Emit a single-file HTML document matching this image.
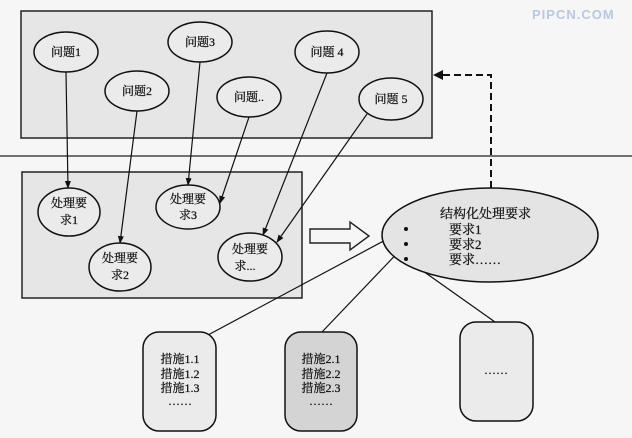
<!DOCTYPE html>
<html><head><meta charset="utf-8"><style>
html,body{margin:0;padding:0;background:#f6f6f6;}
svg{display:block;}
text{font-family:"Liberation Serif","Noto Serif CJK SC",serif;fill:#111;stroke:#111;stroke-width:0.25;}
</style></head><body>
<svg width="632" height="438" viewBox="0 0 632 438" xmlns="http://www.w3.org/2000/svg">
<defs>
<marker id="ah" markerWidth="8" markerHeight="8" refX="7" refY="4" orient="auto" markerUnits="userSpaceOnUse">
<path d="M0,1 L8,4 L0,7 Z" fill="#111"/></marker>
</defs>
<rect width="632" height="438" fill="#f6f6f6"/>
<text x="532" y="19" font-weight="bold" font-size="13" style="fill:#b8c8e0;stroke:none;font-family:'Liberation Sans',sans-serif" letter-spacing="1">PIPCN.COM</text>
<rect x="21" y="11" width="411" height="127" fill="#e6e6e6" stroke="#222" stroke-width="1.5"/>
<line x1="0" y1="156" x2="632" y2="156" stroke="#444" stroke-width="1.4"/>
<rect x="22" y="172" width="280" height="126" fill="#e6e6e6" stroke="#222" stroke-width="1.5"/>
<g stroke="#111" stroke-width="1.2" fill="none">
<line x1="66" y1="72" x2="68" y2="188" marker-end="url(#ah)"/>
<line x1="137" y1="111" x2="120" y2="243" marker-end="url(#ah)"/>
<line x1="200" y1="62" x2="188" y2="185" marker-end="url(#ah)"/>
<line x1="249" y1="117" x2="220" y2="203" marker-end="url(#ah)"/>
<line x1="327" y1="73" x2="263" y2="235" marker-end="url(#ah)"/>
<line x1="367" y1="114" x2="277" y2="242" marker-end="url(#ah)"/>
<line x1="208" y1="335" x2="406" y2="229"/>
<line x1="322" y1="332" x2="406" y2="244"/>
<line x1="495" y1="322" x2="406" y2="259"/>
</g>
<path d="M491,188 L491,75 L440,75" stroke="#111" stroke-width="2" stroke-dasharray="7,4" fill="none"/>
<path d="M433,75 L443,70 L443,80 Z" fill="#111"/>
<g fill="#ebebeb" stroke="#111" stroke-width="1.5">
<ellipse cx="66" cy="52" rx="32" ry="20"/>
<ellipse cx="200" cy="42" rx="32" ry="20"/>
<ellipse cx="137" cy="91" rx="32" ry="20"/>
<ellipse cx="249" cy="97" rx="32" ry="20"/>
<ellipse cx="327" cy="52" rx="32" ry="21"/>
<ellipse cx="391" cy="99" rx="32" ry="21"/>
<ellipse cx="69" cy="212" rx="31" ry="24"/>
<ellipse cx="188" cy="207" rx="32" ry="22"/>
<ellipse cx="120" cy="267" rx="31" ry="24"/>
<ellipse cx="250" cy="257" rx="32" ry="24"/>
<ellipse cx="490" cy="235" rx="108" ry="47" fill="#e4e4e4"/>
</g>
<g font-size="12" text-anchor="middle">
<text x="66" y="56">问题1</text>
<text x="200" y="46">问题3</text>
<text x="137" y="95">问题2</text>
<text x="249" y="101">问题..</text>
<text x="327" y="56">问题 4</text>
<text x="391" y="103">问题 5</text>
<text x="69" y="207">处理要</text><text x="69" y="224">求1</text>
<text x="188" y="203">处理要</text><text x="188" y="219">求3</text>
<text x="120" y="262">处理要</text><text x="120" y="279">求2</text>
<text x="250" y="253">处理要</text><text x="245" y="270">求...</text>
</g>
<path d="M310,229 L350,229 L350,222 L369,236 L350,250 L350,243 L310,243 Z" fill="#f6f6f6" stroke="#222" stroke-width="1.4"/>
<g font-size="13">
<text x="440" y="218">结构化处理要求</text>
<text x="449" y="234">要求1</text>
<text x="449" y="249">要求2</text>
<text x="449" y="264">要求……</text>
</g>
<g fill="#111">
<circle cx="406" cy="229" r="2"/><circle cx="406" cy="244" r="2"/><circle cx="406" cy="259" r="2"/>
</g>
<rect x="143" y="332" width="73" height="99" rx="16" fill="#ebebeb" stroke="#111" stroke-width="1.5"/>
<rect x="285" y="332" width="72" height="99" rx="16" fill="#d4d4d4" stroke="#111" stroke-width="1.5"/>
<rect x="460" y="322" width="73" height="99" rx="16" fill="#ebebeb" stroke="#111" stroke-width="1.5"/>
<g font-size="12" text-anchor="middle">
<text x="180" y="363">措施1.1</text><text x="180" y="378">措施1.2</text><text x="180" y="392">措施1.3</text><text x="180" y="405">……</text>
<text x="321" y="363">措施2.1</text><text x="321" y="378">措施2.2</text><text x="321" y="392">措施2.3</text><text x="321" y="405">……</text>
<text x="496" y="374">……</text>
</g>
</svg>
</body></html>
